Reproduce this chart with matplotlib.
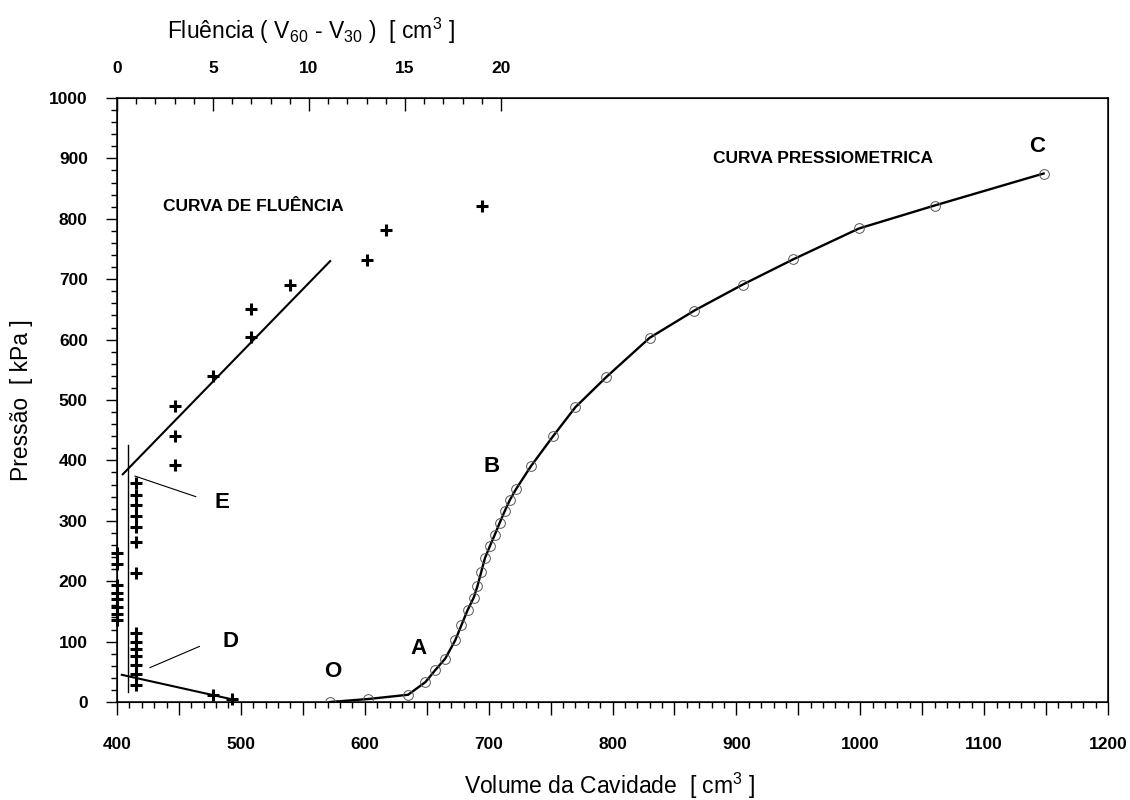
import matplotlib
matplotlib.use('Agg')
import matplotlib.pyplot as plt
from matplotlib.ticker import FixedLocator, MultipleLocator, FuncFormatter

plt.rcParams['font.family'] = ['Liberation Sans', 'DejaVu Sans']
plt.rcParams['mathtext.fontset'] = 'custom'
plt.rcParams['mathtext.rm'] = 'Liberation Sans'
plt.rcParams['mathtext.it'] = 'Liberation Sans'

# curva pressiometrica: volume da cavidade [cm3] x pressao [kPa]
volume = [572, 603, 635, 649, 657, 665, 673, 678, 683, 688, 691, 694, 697,
          701, 705, 709, 713, 717, 722, 734, 752, 770, 795, 830, 866, 905,
          946, 999, 1060, 1148]
pressao = [0, 5, 12, 33, 53, 72, 102, 127, 152, 173, 192, 215, 238,
           258, 277, 297, 316, 334, 352, 390, 440, 488, 538, 603, 648, 691,
           733, 784, 822, 875]

# curva de fluencia: V60 - V30 [cm3] x pressao [kPa]
flu_x = [0, 0, 0, 0, 0, 0, 0, 0,
         1, 1, 1, 1, 1, 1, 1,
         1, 1, 1, 1, 1, 1, 1,
         3, 3, 3, 5, 7, 7, 9, 13, 14, 19,
         5, 6]
flu_p = [246, 229, 194, 181, 170, 158, 146, 136,
         115, 100, 88, 76, 62, 46, 28,
         362, 343, 326, 308, 290, 265, 213,
         392, 440, 490, 540, 605, 650, 690, 732, 782, 822,
         11, 5]

# retas ajustadas sobre a curva de fluencia
reta_sup_x = [0.3, 11.1]
reta_sup_p = [377, 730]
reta_inf_x = [0.25, 6.05]
reta_inf_p = [45, 4]
vert_x = [0.55, 0.55]
vert_p = [17, 426]
lig_E_x = [0.94, 4.1]
lig_E_p = [374, 340]
lig_D_x = [1.72, 4.29]
lig_D_p = [57, 92]

W, H = 1130, 800
fig = plt.figure(figsize=(W / 100, H / 100), dpi=100)
ax = fig.add_axes([117 / W, 1 - 702 / H, (1108 - 117) / W, (702 - 98) / H])

ax.plot(volume, pressao, color='black', lw=1.7, zorder=3)
ax.plot(volume, pressao, 'o', ms=7, mfc='none', mec='#555555', mew=0.7, zorder=4)

ax.set_xlim(400, 1200)
ax.set_ylim(0, 1000)
ax.xaxis.set_major_locator(MultipleLocator(50))
ax.xaxis.set_minor_locator(MultipleLocator(10))
ax.xaxis.set_major_formatter(FuncFormatter(lambda v, p: '%d' % v if v % 100 == 0 else ''))
ax.yaxis.set_major_locator(MultipleLocator(100))
ax.yaxis.set_minor_locator(MultipleLocator(20))
ax.tick_params(axis='x', which='major', direction='out', length=9, width=1, pad=16)
ax.tick_params(axis='x', which='minor', direction='out', length=4.5, width=1)
ax.tick_params(axis='y', which='major', direction='out', length=8, width=1, pad=13)
ax.tick_params(axis='y', which='minor', direction='out', length=4, width=1)
for lab in ax.get_xticklabels() + ax.get_yticklabels():
    lab.set_fontweight('bold')
    lab.set_fontsize(12.5)
for s in ax.spines.values():
    s.set_linewidth(1.1)

ax2 = ax.twiny()
ax2.set_xlim(0, 51.6)
ax2.xaxis.set_major_locator(FixedLocator([0, 5, 10, 15, 20]))
ax2.xaxis.set_minor_locator(FixedLocator(list(range(0, 21))))
ax2.tick_params(axis='x', which='major', direction='in', length=9, width=1, pad=16)
ax2.tick_params(axis='x', which='minor', direction='in', length=4.5, width=1)
for lab in ax2.get_xticklabels():
    lab.set_fontweight('bold')
    lab.set_fontsize(12.5)

ax2.plot(flu_x, flu_p, '+', ms=9, mew=2.2, color='black', zorder=5, clip_on=False)
ax2.plot(reta_sup_x, reta_sup_p, color='black', lw=1.5)
ax2.plot(reta_inf_x, reta_inf_p, color='black', lw=1.5)
ax2.plot(vert_x, vert_p, color='black', lw=1.0)
ax2.plot(lig_E_x, lig_E_p, color='black', lw=0.8)
ax2.plot(lig_D_x, lig_D_p, color='black', lw=0.8)

letra = dict(fontsize=16, fontweight='bold', ha='center', va='center')
ax.text(574, 51, 'O', **letra)
ax.text(643, 89, 'A', **letra)
ax.text(702.6, 390, 'B', **letra)
ax.text(1143, 919, 'C', **letra)
ax2.text(5.9, 100, 'D', **letra)
ax2.text(5.45, 330, 'E', **letra)

ax.text(437, 820, 'CURVA DE FLUÊNCIA', fontsize=12.5, fontweight='bold', va='center')
ax.text(881, 900, 'CURVA PRESSIOMETRICA', fontsize=12.5, fontweight='bold', va='center')

fig.text(311 / W, 1 - 31 / H, 'Fluência ( V$_{60}$ - V$_{30}$ )  [ cm$^3$ ]',
         fontsize=16.5, ha='center', va='center')
fig.text(610 / W, 1 - 786 / H, 'Volume da Cavidade  [ cm$^3$ ]',
         fontsize=16.5, ha='center', va='center')
fig.text(22 / W, 0.5, 'Pressão  [ kPa ]', fontsize=16.5, rotation=90,
         ha='center', va='center')

fig.savefig('out.png', dpi=100)
